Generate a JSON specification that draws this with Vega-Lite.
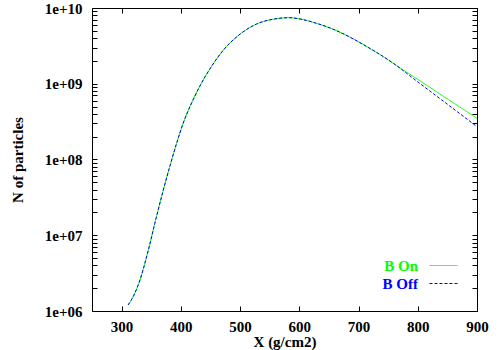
{
  "$schema": "https://vega.github.io/schema/vega-lite/v6.json",
  "width": 385,
  "height": 303,
  "autosize": "none",
  "padding": {"left": 92, "top": 8, "right": 23, "bottom": 39},
  "background": "white",
  "config": {
    "view": {"stroke": "black", "strokeWidth": 1},
    "font": "Liberation Serif",
    "axis": {
      "labelFont": "Liberation Serif", "labelFontSize": 15, "labelFontWeight": "bold", "labelColor": "black",
      "titleFont": "Liberation Serif", "titleFontSize": 15, "titleFontWeight": "bold", "titleColor": "black",
      "grid": false, "domain": false, "tickColor": "black", "tickSize": -5, "labelPadding": 14,
      "labelFlush": false, "labelOverlap": false
    },
    "legend": {
      "orient": "none", "legendX": 344, "legendY": 250, "title": null,
      "symbolType": "M-2.8,0H2.8", "symbolSize": 100, "symbolStrokeWidth": 1,
      "labelAlign": "right", "labelOffset": -33,
      "labelFont": "Liberation Serif", "labelFontSize": 15, "labelFontWeight": "bold",
      "padding": 0, "rowPadding": 2
    }
  },
  "datasets": {
    "curves": [
      {"x": 311, "series": "B On", "n": 1.202e6}, {"x": 311, "series": "B Off", "n": 1.202e6},
      {"x": 322, "series": "B On", "n": 1.698e6}, {"x": 322, "series": "B Off", "n": 1.698e6},
      {"x": 331, "series": "B On", "n": 2.570e6}, {"x": 331, "series": "B Off", "n": 2.570e6},
      {"x": 345, "series": "B On", "n": 6.310e6}, {"x": 345, "series": "B Off", "n": 6.310e6},
      {"x": 356, "series": "B On", "n": 1.429e7}, {"x": 356, "series": "B Off", "n": 1.429e7},
      {"x": 370, "series": "B On", "n": 3.846e7}, {"x": 370, "series": "B Off", "n": 3.846e7},
      {"x": 382, "series": "B On", "n": 8.414e7}, {"x": 382, "series": "B Off", "n": 8.414e7},
      {"x": 393, "series": "B On", "n": 1.652e8}, {"x": 393, "series": "B Off", "n": 1.652e8},
      {"x": 404, "series": "B On", "n": 3.020e8}, {"x": 404, "series": "B Off", "n": 3.020e8},
      {"x": 421, "series": "B On", "n": 6.209e8}, {"x": 421, "series": "B Off", "n": 6.209e8},
      {"x": 432, "series": "B On", "n": 9.268e8}, {"x": 432, "series": "B Off", "n": 9.268e8},
      {"x": 449, "series": "B On", "n": 1.567e9}, {"x": 449, "series": "B Off", "n": 1.567e9},
      {"x": 472, "series": "B On", "n": 2.793e9}, {"x": 472, "series": "B Off", "n": 2.793e9},
      {"x": 500, "series": "B On", "n": 4.519e9}, {"x": 500, "series": "B Off", "n": 4.519e9},
      {"x": 528, "series": "B On", "n": 6.152e9}, {"x": 528, "series": "B Off", "n": 6.152e9},
      {"x": 556, "series": "B On", "n": 7.112e9}, {"x": 556, "series": "B Off", "n": 7.112e9},
      {"x": 584, "series": "B On", "n": 7.447e9}, {"x": 584, "series": "B Off", "n": 7.447e9},
      {"x": 601, "series": "B On", "n": 7.161e9}, {"x": 601, "series": "B Off", "n": 7.161e9},
      {"x": 629, "series": "B On", "n": 6.281e9}, {"x": 629, "series": "B Off", "n": 6.281e9},
      {"x": 657, "series": "B On", "n": 5.248e9}, {"x": 657, "series": "B Off", "n": 5.248e9},
      {"x": 686, "series": "B On", "n": 4.102e9}, {"x": 686, "series": "B Off", "n": 4.102e9},
      {"x": 714, "series": "B On", "n": 3.090e9}, {"x": 714, "series": "B Off", "n": 3.090e9},
      {"x": 742, "series": "B On", "n": 2.275e9}, {"x": 742, "series": "B Off", "n": 2.275e9},
      {"x": 755, "series": "B On", "n": 1.950e9}, {"x": 755, "series": "B Off", "n": 1.950e9},
      {"x": 770, "series": "B On", "n": 1.622e9}, {"x": 770, "series": "B Off", "n": 1.603e9},
      {"x": 800, "series": "B On", "n": 1.143e9}, {"x": 800, "series": "B Off", "n": 1.059e9},
      {"x": 850, "series": "B On", "n": 6.310e8}, {"x": 850, "series": "B Off", "n": 5.370e8},
      {"x": 900, "series": "B On", "n": 3.499e8}, {"x": 900, "series": "B Off", "n": 2.710e8}
    ]
  },
  "layer": [
    {
      "data": {"name": "curves"},
      "mark": {"type": "line", "interpolate": "monotone", "strokeWidth": 1, "clip": true},
      "encoding": {
        "x": {
          "field": "x", "type": "quantitative",
          "scale": {"domain": [250, 900], "nice": false, "zero": false},
          "axis": {"orient": "bottom", "title": "X (g/cm2)", "values": [300, 400, 500, 600, 700, 800, 900], "labelPadding": 13, "titlePadding": 0}
        },
        "y": {
          "field": "n", "type": "quantitative",
          "scale": {"type": "log", "domain": [1e6, 1e10], "nice": false},
          "axis": {
            "orient": "left", "title": "N of particles", "labelPadding": 15, "titlePadding": 19,
            "values": [1e6, 2e6, 3e6, 4e6, 5e6, 6e6, 7e6, 8e6, 9e6, 1e7, 2e7, 3e7, 4e7, 5e7, 6e7, 7e7, 8e7, 9e7, 1e8, 2e8, 3e8, 4e8, 5e8, 6e8, 7e8, 8e8, 9e8, 1e9, 2e9, 3e9, 4e9, 5e9, 6e9, 7e9, 8e9, 9e9, 1e10],
            "labelExpr": "abs(log(datum.value)/LN10 - round(log(datum.value)/LN10)) < 0.01 ? '1e+' + format(round(log(datum.value)/LN10), '02d') : ''",
            "encode": {"ticks": {"update": {"x2": {"signal": "abs(log(datum.value)/LN10 - round(log(datum.value)/LN10)) < 0.01 ? 5 : 3"}}}}
          }
        },
        "color": {
          "field": "series", "type": "nominal",
          "scale": {"domain": ["B On", "B Off"], "range": ["#00ff00", "#0000ff"]},
          "legend": {"encode": {"labels": {"update": {"fill": {"signal": "datum.value === 'B On' ? '#00ff00' : '#0000ff'"}}}}}
        },
        "strokeDash": {
          "field": "series", "type": "nominal",
          "scale": {"domain": ["B On", "B Off"], "range": [[1, 0], [3, 2]]},
          "legend": {"encode": {"labels": {"update": {"fill": {"signal": "datum.value === 'B On' ? '#00ff00' : '#0000ff'"}}}}}
        }
      }
    },
    {
      "data": {"name": "curves"},
      "mark": {"type": "line", "opacity": 0},
      "encoding": {
        "x": {
          "field": "x", "type": "quantitative",
          "scale": {"domain": [250, 900], "nice": false, "zero": false},
          "axis": {"orient": "top", "title": null, "labels": false, "values": [300, 400, 500, 600, 700, 800, 900]}
        },
        "y": {
          "field": "n", "type": "quantitative",
          "scale": {"type": "log", "domain": [1e6, 1e10], "nice": false},
          "axis": {
            "orient": "right", "title": null, "labels": false,
            "values": [1e6, 2e6, 3e6, 4e6, 5e6, 6e6, 7e6, 8e6, 9e6, 1e7, 2e7, 3e7, 4e7, 5e7, 6e7, 7e7, 8e7, 9e7, 1e8, 2e8, 3e8, 4e8, 5e8, 6e8, 7e8, 8e8, 9e8, 1e9, 2e9, 3e9, 4e9, 5e9, 6e9, 7e9, 8e9, 9e9, 1e10],
            "encode": {"ticks": {"update": {"x2": {"signal": "abs(log(datum.value)/LN10 - round(log(datum.value)/LN10)) < 0.01 ? -5 : -3"}}}}
          }
        }
      }
    }
  ],
  "resolve": {"axis": {"x": "independent", "y": "independent"}}
}
